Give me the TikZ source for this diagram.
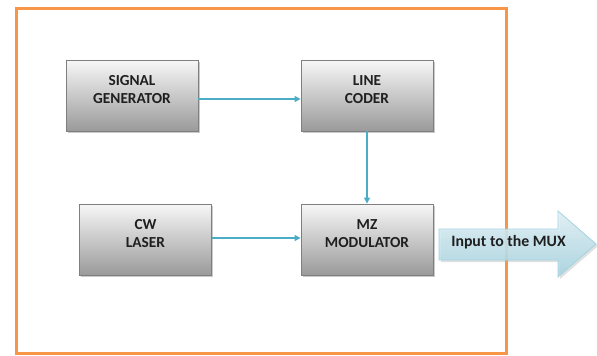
\documentclass[tikz,border=0pt]{standalone}
\usepackage{fontspec}
\setmainfont{Carlito}
\usetikzlibrary{shadows,arrows.meta}
\definecolor{frameorange}{HTML}{F79646}
\definecolor{conncol}{HTML}{4BACC6}
\definecolor{boxtop}{HTML}{F7F7F7}
\definecolor{boxbot}{HTML}{9A9A9A}
\definecolor{boxline}{HTML}{7F7F7F}
\definecolor{arrtop}{HTML}{E2F2F7}
\definecolor{arrbot}{HTML}{A3D2E0}
\definecolor{arrline}{HTML}{A5D3E0}
\definecolor{txt}{HTML}{1F1F1F}
\begin{document}
\begin{tikzpicture}[x=1pt,y=-1pt,
  blockbox/.style={draw=boxline, line width=0.8pt, top color=boxtop, bottom color=boxbot,
    minimum width=132pt, minimum height=71pt, inner sep=0pt,
    drop shadow={shadow xshift=1.5pt, shadow yshift=-1.5pt, fill=black!35, opacity=0.6}},
  blocktext/.style={align=center, text=txt, font=\fontsize{15.3}{18.5}\selectfont\bfseries},
  conn/.style={draw=conncol, line width=1.3pt, -{Triangle[length=6pt,width=6pt]}}
]
\useasboundingbox (0,0) rectangle (597,356);

% frame
\node[draw=frameorange, line width=3pt, minimum width=490pt, minimum height=345pt, inner sep=0pt] (frame) at (261,180.5) {};

% blocks
\node[blockbox] (sg) at (132,95.5) {};
\node[blockbox] (lc) at (367,95.5) {};
\node[blockbox] (cw) at (145.5,239.5) {};
\node[blockbox] (mz) at (367,239.5) {};

\node[blocktext] (sgt) at (132,89.5) {SIGNAL\\GENERATOR};
\node[blocktext] (lct) at (367,89.5) {LINE\\CODER};
\node[blocktext] (cwt) at (145.5,233.5) {CW\\LASER};
\node[blocktext] (mzt) at (367,233.5) {MZ\\MODULATOR};

% connectors
\draw[conn] ([yshift=-3.5pt]sg.east) -- ([yshift=-3.5pt]lc.west);
\draw[conn] (lc.south) -- (mz.north);
\draw[conn] ([yshift=1.5pt]cw.east) -- ([yshift=1.5pt]mz.west);

% big output arrow
\fill[black!30, opacity=0.4] (441,231) -- (560,231) -- (560,213) -- (598,246) -- (560,279) -- (560,262) -- (441,262) -- cycle;
\path[draw=arrline, line width=0.8pt, top color=arrtop, bottom color=arrbot, fill opacity=0.85]
  (439,229) -- (558,229) -- (558,211) -- (596,244) -- (558,277) -- (558,260) -- (439,260) -- cycle;
\node[blocktext, font=\fontsize{15.8}{18.5}\selectfont\bfseries] (mux) at (508.5,242) {Input to the MUX};
\end{tikzpicture}
\end{document}
